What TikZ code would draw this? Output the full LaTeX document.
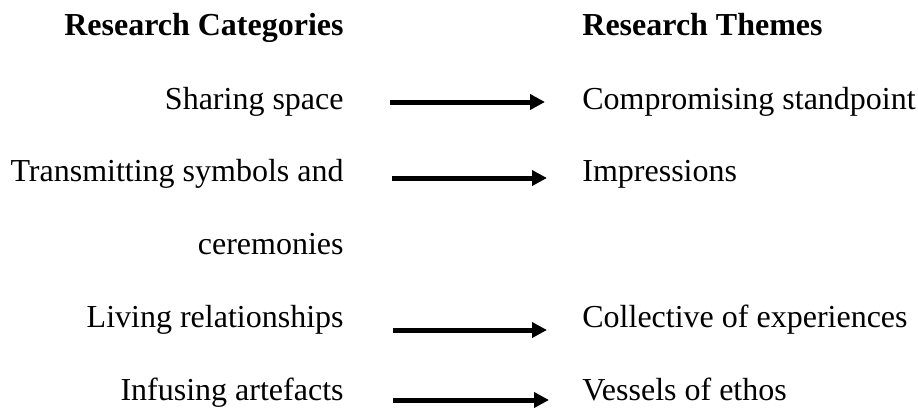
\documentclass[tikz,border=0pt]{standalone}
\usepackage{fontspec}
\setmainfont{Liberation Serif}
\usetikzlibrary{arrows.meta}
\begin{document}
\begin{tikzpicture}[
                    x=0.5pt, y=-0.5pt,
                    font=\fontsize{16}{19}\selectfont,
                    every node/.style={inner sep=0pt},
                    >={Triangle[length=7.5pt,width=7.5pt]}
                    ]
        
                    \useasboundingbox (0,0) rectangle (918,408);
                    
                    \node [anchor=base east, font=\fontsize{16}{19}\selectfont\bfseries] (categories) at (344,35) {Research Categories};
                    \node [anchor=base west, font=\fontsize{16}{19}\selectfont\bfseries] (themes) at (582,35) {Research Themes};
                    
                    \node [anchor=base east] (sharing) at (344,109) {Sharing space};
                    \node [anchor=base east] (transmitting) at (344,181) {Transmitting symbols and};
                    \node [anchor=base east] (ceremonies) at (344,254) {ceremonies};
                    \node [anchor=base east] (living) at (344,327) {Living relationships};
                    \node [anchor=base east] (infusing) at (344,400) {Infusing artefacts};
                    
                    \node [anchor=base west] (compromising) at (582,109) {Compromising standpoint};
                    \node [anchor=base west] (impressions) at (582,181) {Impressions};
                    \node [anchor=base west] (collective) at (582,327) {Collective of experiences};
                    \node [anchor=base west] (vessels) at (582,400) {Vessels of ethos};
                    
                    \coordinate (a1) at (390,102); \coordinate (b1) at (545,102);
                    \coordinate (a2) at (392,178); \coordinate (b2) at (547,178);
                    \coordinate (a3) at (393,330); \coordinate (b3) at (547,330);
                    \coordinate (a4) at (393,400); \coordinate (b4) at (549,400);
                    
                    \draw[->, line width=2.5pt] (a1) -- (b1);
                    \draw[->, line width=2.5pt] (a2) -- (b2);
                    \draw[->, line width=2.5pt] (a3) -- (b3);
                    \draw[->, line width=2.5pt] (a4) -- (b4);
                \end{tikzpicture}
\end{document}
